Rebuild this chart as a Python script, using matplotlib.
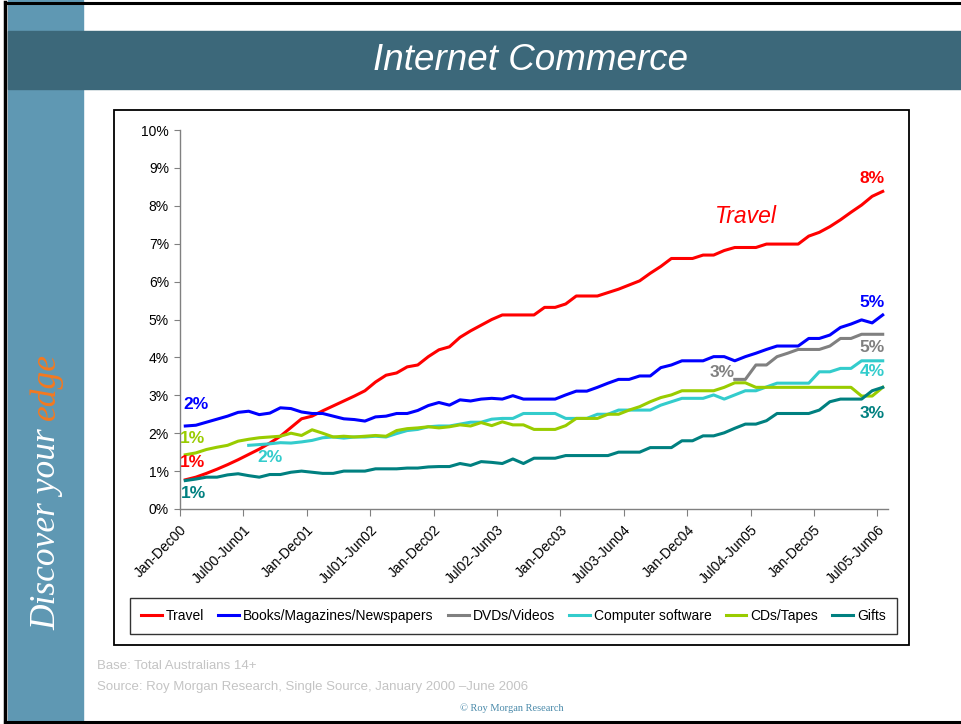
import numpy as np
import matplotlib.pyplot as plt
from matplotlib.patches import Rectangle
from matplotlib.lines import Line2D

plt.rcParams['font.family'] = ['Liberation Sans', 'DejaVu Sans']

# moving annual periods, one per month, Jan-Dec00 .. Jul05-Jun06
n_periods = 67
tick_labels = ['Jan-Dec00', 'Jul00-Jun01', 'Jan-Dec01', 'Jul01-Jun02', 'Jan-Dec02',
               'Jul02-Jun03', 'Jan-Dec03', 'Jul03-Jun04', 'Jan-Dec04', 'Jul04-Jun05',
               'Jan-Dec05', 'Jul05-Jun06']

# % of Australians 14+ buying each category online
travel = [0.77, 0.84, 0.94, 1.05, 1.17, 1.30, 1.44, 1.58, 1.74, 1.92, 2.15, 2.38, 2.45, 2.59, 2.72, 2.85,
          2.98, 3.12, 3.35, 3.53, 3.59, 3.75, 3.80,
          4.02, 4.20, 4.28, 4.53, 4.70, 4.85, 5.00, 5.12, 5.12, 5.12, 5.12, 5.32, 5.32, 5.41, 5.62, 5.62,
          5.62, 5.71, 5.80, 5.91, 6.02, 6.22,
          6.40, 6.61, 6.61, 6.61, 6.70, 6.70, 6.82, 6.90, 6.90, 6.90, 6.99, 6.99, 6.99, 6.99, 7.20, 7.30,
          7.45, 7.63, 7.83, 8.02, 8.25, 8.38]
books = [2.19, 2.21, 2.29, 2.37, 2.45, 2.55, 2.58, 2.49, 2.53, 2.67, 2.65, 2.56, 2.52, 2.52, 2.45, 2.38,
         2.36, 2.32, 2.43, 2.45, 2.52, 2.52, 2.60,
         2.73, 2.81, 2.74, 2.88, 2.85, 2.90, 2.92, 2.90, 2.99, 2.90, 2.90, 2.90, 2.90, 3.01, 3.11, 3.11,
         3.21, 3.32, 3.42, 3.42, 3.51, 3.51,
         3.73, 3.80, 3.91, 3.91, 3.91, 4.02, 4.02, 3.91, 4.02, 4.11, 4.21, 4.30, 4.30, 4.30, 4.50, 4.50,
         4.59, 4.79, 4.88, 4.99, 4.91, 5.12]
dvds_start = 52
dvds = [3.42, 3.42, 3.80, 3.80, 4.02, 4.11, 4.21, 4.21, 4.21, 4.30, 4.50, 4.50, 4.61, 4.61, 4.61]
software_start = 6
software = [1.68, 1.70, 1.72, 1.75, 1.74, 1.77, 1.81, 1.88, 1.90, 1.87, 1.90, 1.90, 1.92, 1.90, 1.99,
            2.07, 2.10,
            2.17, 2.19, 2.19, 2.24, 2.29, 2.29, 2.37, 2.39, 2.39, 2.52, 2.52, 2.52, 2.52, 2.39, 2.39,
            2.39, 2.50, 2.50, 2.61, 2.61, 2.61, 2.61,
            2.74, 2.83, 2.92, 2.92, 2.92, 3.01, 2.90, 3.01, 3.12, 3.12, 3.22, 3.32, 3.32, 3.32, 3.32,
            3.62, 3.62, 3.71, 3.71, 3.91, 3.91, 3.91]
cds = [1.43, 1.48, 1.57, 1.63, 1.68, 1.79, 1.84, 1.88, 1.90, 1.92, 2.00, 1.94, 2.09, 2.00, 1.90, 1.92,
       1.90, 1.92, 1.94, 1.92, 2.07, 2.12, 2.14,
       2.17, 2.14, 2.17, 2.22, 2.19, 2.28, 2.20, 2.30, 2.22, 2.22, 2.10, 2.10, 2.10, 2.20, 2.39, 2.39,
       2.39, 2.50, 2.50, 2.61, 2.70, 2.83,
       2.94, 3.01, 3.12, 3.12, 3.12, 3.12, 3.21, 3.33, 3.33, 3.21, 3.21, 3.21, 3.21, 3.21, 3.21, 3.21,
       3.21, 3.21, 3.21, 2.98, 2.98, 3.21]
gifts = [0.75, 0.79, 0.84, 0.84, 0.90, 0.93, 0.88, 0.84, 0.91, 0.91, 0.97, 1.00, 0.97, 0.94, 0.94, 1.00,
         1.00, 1.00, 1.06, 1.06, 1.06, 1.08, 1.08,
         1.11, 1.12, 1.12, 1.20, 1.15, 1.25, 1.23, 1.20, 1.32, 1.20, 1.34, 1.34, 1.34, 1.41, 1.41, 1.41,
         1.41, 1.41, 1.50, 1.50, 1.50, 1.62,
         1.62, 1.62, 1.80, 1.80, 1.93, 1.93, 2.01, 2.13, 2.24, 2.24, 2.33, 2.52, 2.52, 2.52, 2.52, 2.61,
         2.83, 2.90, 2.90, 2.90, 3.12, 3.21]

W, H = 962, 724


def fx(px):
    return px / W


def fy(py):
    return 1 - py / H


def padded(values, start):
    out = np.full(n_periods, np.nan)
    out[start:start + len(values)] = values
    return out


series = [
    ('Travel', padded(travel, 0), '#ff0000'),
    ('Books/Magazines/Newspapers', padded(books, 0), '#0000ff'),
    ('DVDs/Videos', padded(dvds, dvds_start), '#808080'),
    ('Computer software', padded(software, software_start), '#33cccc'),
    ('CDs/Tapes', padded(cds, 0), '#99cc00'),
    ('Gifts', padded(gifts, 0), '#008080'),
]

fig = plt.figure(figsize=(9.62, 7.24), dpi=100)

# slide background: sidebar, title band, black edges
sidebar = '#5f98b3'
band = '#3c687a'
fig.add_artist(Rectangle((fx(8), 0), fx(83) - fx(8), 1, color=sidebar,
                         transform=fig.transFigure, zorder=-3))
fig.add_artist(Rectangle((fx(8), fy(89)), 1, fy(31) - fy(89), color=band,
                         transform=fig.transFigure, zorder=-2))
fig.add_artist(Line2D([fx(5), fx(5)], [fy(723), fy(2)], color='black', lw=2.5,
                      transform=fig.transFigure))
fig.add_artist(Line2D([fx(5), 1], [fy(2.5), fy(2.5)], color='black', lw=2.2,
                      transform=fig.transFigure))
fig.add_artist(Line2D([fx(5), 1], [fy(721.5), fy(721.5)], color='black', lw=2.2,
                      transform=fig.transFigure))

fig.text(fx(531), fy(61), 'Internet Commerce', color='white', fontsize=26.5, style='italic',
         ha='center', va='center')

# "Discover your edge" up the sidebar, last word in orange
t1 = fig.text(fx(55), fy(630), 'Discover your', color='white', fontsize=25.5, style='italic',
              family='Liberation Serif', rotation=90, rotation_mode='anchor',
              ha='left', va='baseline')
fig.canvas.draw()
bb = t1.get_window_extent()
fig.text(fx(55), (bb.y1 + 8) / H, 'edge', color='#f47920', fontsize=25.5, style='italic',
         family='Liberation Serif', rotation=90, rotation_mode='anchor',
         ha='left', va='baseline')

# chart frame
fig.add_artist(Rectangle((fx(114), fy(645)), fx(909) - fx(114), fy(110) - fy(645),
                         facecolor='white', edgecolor='black', lw=1.3,
                         transform=fig.transFigure, zorder=-1))

ax = fig.add_axes([fx(180), fy(509), fx(888) - fx(180), fy(130) - fy(509)])
ax.set_zorder(1)
ax.patch.set_alpha(0)

x = np.arange(n_periods) + 0.5
handles = []
for name, vals, col in series:
    ln, = ax.plot(x, vals, color=col, lw=2.2, label=name, solid_joinstyle='round')
    handles.append(ln)

ax.set_xlim(0, n_periods)
ax.set_ylim(0, 10)
ax.set_yticks(range(0, 11))
ax.set_yticklabels([f'{v}%' for v in range(0, 11)], fontsize=10)
ax.set_xticks(np.arange(0, n_periods, 6))
ax.set_xticklabels(tick_labels, rotation=45, ha='right', rotation_mode='anchor', fontsize=10)
for s in ['top', 'right']:
    ax.spines[s].set_visible(False)
for s in ['left', 'bottom']:
    ax.spines[s].set_color('#808080')
    ax.spines[s].set_linewidth(1.0)
ax.tick_params(axis='y', direction='out', length=4, color='#808080', pad=4)
ax.tick_params(axis='x', direction='out', length=5, color='#808080', pad=5)


# start / end value labels
def value_label(vals, i, dx, dy, col):
    ax.text(i + 0.5 + dx, vals[i] + dy, f'{round(vals[i])}%', color=col, fontsize=12.5,
            fontweight='bold', ha='center', va='center', clip_on=False)


s = {name: vals for name, vals, col in series}
value_label(s['Books/Magazines/Newspapers'], 0, 1.0, 0.58, '#0000ff')
value_label(s['CDs/Tapes'], 0, 0.7, 0.44, '#99cc00')
value_label(s['Travel'], 0, 0.7, 0.47, '#ff0000')
value_label(s['Gifts'], 0, 0.8, -0.33, '#008080')
value_label(s['Computer software'], software_start, 2.0, -0.33, '#33cccc')
value_label(s['DVDs/Videos'], dvds_start, -1.2, 0.19, '#808080')
value_label(s['Travel'], 66, -1.0, 0.35, '#ff0000')
value_label(s['Books/Magazines/Newspapers'], 66, -1.0, 0.32, '#0000ff')
value_label(s['DVDs/Videos'], 66, -1.0, -0.34, '#808080')
value_label(s['Computer software'], 66, -1.0, -0.27, '#33cccc')
value_label(s['Gifts'], 66, -1.0, -0.68, '#008080')

ax.text(53.6, 7.73, 'Travel', color='#ff0000', fontsize=16.5, style='italic',
        ha='center', va='center')

leg = fig.legend(handles=handles, ncol=6, loc='center',
                 bbox_to_anchor=(fx(513.5), fy(616)), fontsize=10, frameon=True,
                 fancybox=False, edgecolor='black', handlelength=1.5, handletextpad=0.3,
                 columnspacing=1.0, borderpad=0.8)
leg.get_frame().set_linewidth(1.0)

fig.text(fx(97), fy(666), 'Base: Total Australians 14+', color='#c4c4c4', fontsize=9.5,
         ha='left', va='center')
fig.text(fx(97), fy(687), 'Source: Roy Morgan Research, Single Source, January 2000 \u2013June 2006',
         color='#c4c4c4', fontsize=9.5, ha='left', va='center')
fig.text(fx(512), fy(708), '\u00a9 Roy Morgan Research', color='#4a8aaa', fontsize=7.5,
         family='Liberation Serif', ha='center', va='center')

fig.savefig('out.png', dpi=100)
